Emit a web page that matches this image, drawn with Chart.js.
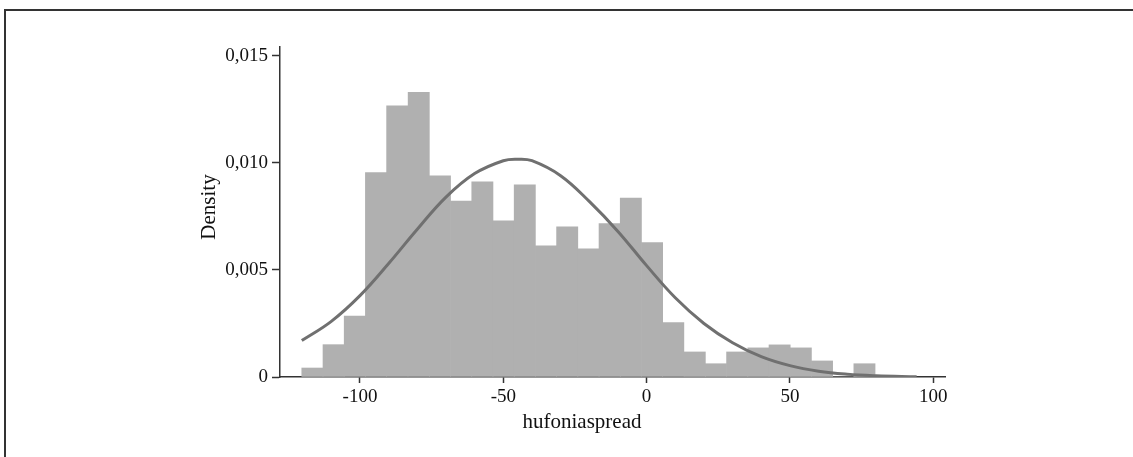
<!DOCTYPE html>
<html>
<head>
    <title>hufoniaspread density</title>
    <script src="https://cdn.jsdelivr.net/npm/chart.js"></script>
    <style>
        body {
            margin: 0;
            background-color: #fff;
        }
        .wrap {
            position: relative;
            width: 1133px;
            height: 457px;
        }
    </style>
</head>
<body>
    <div class="wrap">
        <canvas id="histChart" width="1133" height="457"></canvas>
    </div>

    <script>
        // histogram bins (centres) and their densities
        const binCenters = [-116.6, -109.2, -101.8, -94.4, -87.0, -79.5, -72.1, -64.7, -57.3,
                            -49.9, -42.5, -35.1, -27.7, -20.3, -12.9, -5.5, 1.9, 9.3,
                            16.8, 24.2, 31.6, 39.0, 46.4, 53.8, 61.2, 68.6, 76.0];
        const binDensity = [0.00042, 0.00151, 0.00285, 0.00955, 0.01266, 0.01329, 0.00939, 0.00822, 0.00911,
                            0.00729, 0.00897, 0.00612, 0.00701, 0.00598, 0.00717, 0.00836, 0.00628, 0.00254,
                            0.00117, 0.00062, 0.00117, 0.00136, 0.0015, 0.00136, 0.00075, 0, 0.00062];

        // normal density overlay
        const curveX = [-120.3, -110, -100, -90, -80, -70, -60, -50, -45, -40, -30, -20,
                        -10, 0, 10, 20, 30, 40, 50, 60, 70, 80, 94.2];
        const curveY = [0.0017, 0.0026, 0.0038, 0.0053, 0.0069, 0.0084, 0.0095, 0.0101, 0.01017, 0.0101, 0.0094, 0.0082,
                        0.0068, 0.0052, 0.0037, 0.0025, 0.0016, 0.00095, 0.00053, 0.00027, 0.00013, 0.00006, 0.00001];

        const xTicks = [-100, -50, 0, 50, 100];
        const xTickLabels = ['-100', '-50', '0', '50', '100'];
        const yTicks = [0, 0.005, 0.010, 0.015];
        const yTickLabels = ['0', '0,005', '0,010', '0,015'];
        const xTitle = 'hufoniaspread';
        const yTitle = 'Density';

        const FONT = '"Liberation Serif", "Times New Roman", serif';
        const AXIS = '#333333';

        // outer frame + axis titles
        const extrasPlugin = {
            id: 'extras',
            beforeDraw(chart) {
                const ctx = chart.ctx;
                ctx.save();
                ctx.strokeStyle = AXIS;
                ctx.lineWidth = 2;
                ctx.beginPath();
                ctx.moveTo(5, chart.height);
                ctx.lineTo(5, 10);
                ctx.lineTo(chart.width, 10);
                ctx.stroke();
                ctx.restore();
            },
            afterDraw(chart) {
                const ctx = chart.ctx;
                const area = chart.chartArea;
                ctx.save();
                ctx.fillStyle = '#111';
                ctx.font = '21px ' + FONT;
                ctx.textAlign = 'center';
                ctx.textBaseline = 'middle';
                ctx.fillText(xTitle, area.left + 302, area.bottom + 45);
                ctx.translate(area.left - 71, area.top + 160);
                ctx.rotate(-Math.PI / 2);
                ctx.fillText(yTitle, 0, 0);
                ctx.restore();
            }
        };

        const ctx = document.getElementById('histChart').getContext('2d');
        new Chart(ctx, {
            type: 'bar',
            data: {
                datasets: [
                    {
                        type: 'line',
                        data: curveX.map((x, i) => ({ x: x, y: curveY[i] })),
                        borderColor: '#707070',
                        borderWidth: 3,
                        pointRadius: 0,
                        fill: false,
                        tension: 0.4,
                        order: 0
                    },
                    {
                        type: 'bar',
                        data: binCenters.map((x, i) => ({ x: x, y: binDensity[i] })),
                        backgroundColor: '#b0b0b0',
                        borderWidth: 0,
                        barPercentage: 1,
                        categoryPercentage: 1,
                        order: 1
                    }
                ]
            },
            options: {
                responsive: false,
                animation: false,
                layout: {
                    padding: { top: 47, right: 188, bottom: 0, left: 0 }
                },
                plugins: {
                    legend: { display: false },
                    tooltip: { enabled: false }
                },
                scales: {
                    x: {
                        type: 'linear',
                        min: -127.9,
                        max: 104.1,
                        offset: false,
                        grid: {
                            display: true,
                            offset: false,
                            drawOnChartArea: false,
                            drawTicks: true,
                            tickLength: 6,
                            tickWidth: 1.5,
                            tickColor: AXIS
                        },
                        border: { display: true, color: AXIS, width: 1.5 },
                        afterBuildTicks: scale => {
                            scale.ticks = xTicks.map(v => ({ value: v }));
                        },
                        afterFit: scale => {
                            scale.height = 80;
                        },
                        ticks: {
                            padding: 3,
                            maxRotation: 0,
                            color: '#111',
                            font: { family: FONT, size: 19 },
                            callback: value => xTickLabels[xTicks.indexOf(value)]
                        }
                    },
                    y: {
                        min: 0,
                        max: 0.01541,
                        grid: {
                            display: true,
                            drawOnChartArea: false,
                            drawTicks: true,
                            tickLength: 8,
                            tickWidth: 1.5,
                            tickColor: AXIS
                        },
                        border: { display: true, color: AXIS, width: 1.5 },
                        afterBuildTicks: scale => {
                            scale.ticks = yTicks.map(v => ({ value: v }));
                        },
                        afterFit: scale => {
                            scale.width = 280;
                        },
                        ticks: {
                            padding: 4,
                            color: '#111',
                            font: { family: FONT, size: 19 },
                            callback: value => yTickLabels[yTicks.indexOf(value)]
                        }
                    }
                }
            },
            plugins: [extrasPlugin]
        });
    </script>
</body>
</html>
